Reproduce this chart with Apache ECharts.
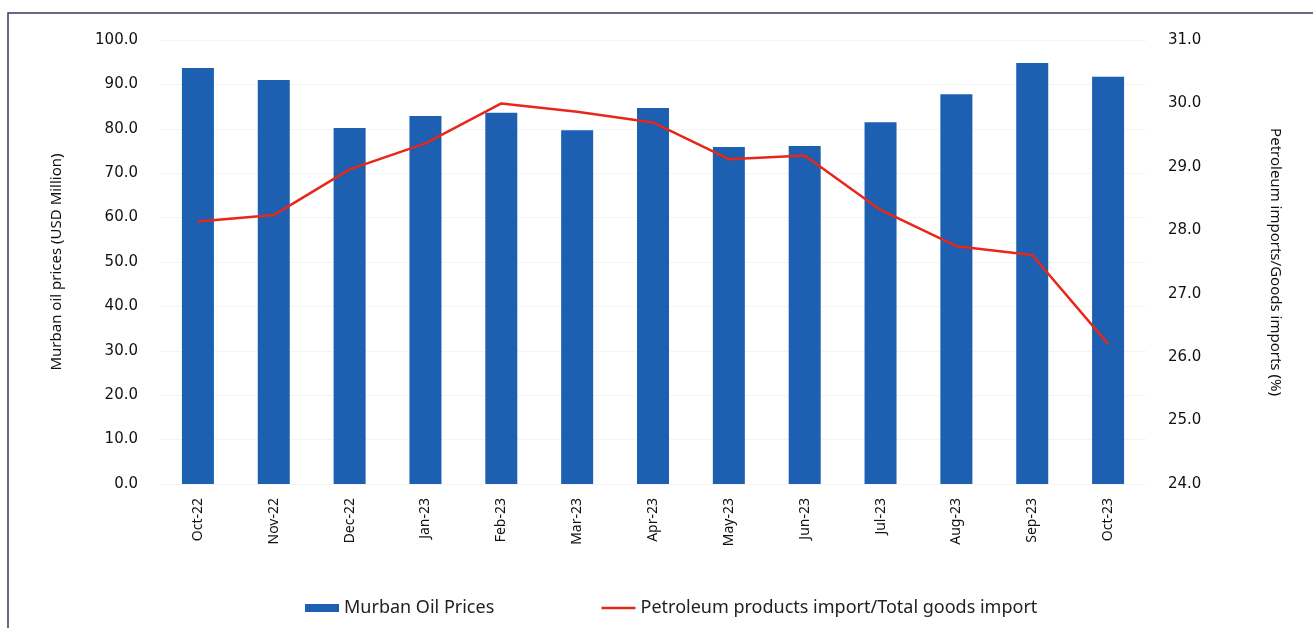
<!DOCTYPE html>
<html>
<head>
<meta charset="utf-8">
<script src="https://cdn.jsdelivr.net/npm/echarts@6/dist/echarts.min.js"></script>
<style>
  html, body { margin: 0; padding: 0; background: #fff; }
  #chart { width: 1313px; height: 628px; }
</style>
</head>
<body>
<div id="chart"></div>
<script>
const months = ['Oct-22', 'Nov-22', 'Dec-22', 'Jan-23', 'Feb-23', 'Mar-23', 'Apr-23',
  'May-23', 'Jun-23', 'Jul-23', 'Aug-23', 'Sep-23', 'Oct-23'];
const murbanPrices = [93.7, 91.0, 80.2, 82.9, 83.6, 79.7, 84.7, 75.9, 76.1, 81.5, 87.8, 94.8, 91.7];
const petroShare = [28.14, 28.24, 28.96, 29.37, 30.0, 29.87, 29.70, 29.12, 29.18, 28.32, 27.75, 27.61, 26.21];

let myChart = echarts.init(document.getElementById('chart'));

let option = {
  backgroundColor: '#fff',
  textStyle: { fontFamily: 'Noto Sans' },
  graphic: [
    {
      // frame around the chart, like the scanned original
      type: 'polyline',
      shape: { points: [[8, 640], [8, 13], [1320, 13]] },
      style: { stroke: '#3f3264', lineWidth: 1.5, fill: null }
    }
  ],
  grid: { left: 160, right: 167, top: 40, bottom: 144 },
  legend: {
    bottom: 6,
    left: 300,
    itemGap: 106,
    itemWidth: 34,
    itemHeight: 8,
    textStyle: { fontSize: 18, color: '#222', fontFamily: 'Noto Sans' },
    data: [
      { name: 'Murban Oil Prices', icon: 'rect', itemStyle: { color: '#1d5fb0' } },
      {
        name: 'Petroleum products import/Total goods import',
        itemStyle: { opacity: 0 },
        lineStyle: { color: '#e8261a', width: 2.5 }
      }
    ]
  },
  xAxis: {
    type: 'category',
    data: months,
    axisLine: { show: false },
    axisTick: { show: false },
    axisLabel: { rotate: 90, fontSize: 14, color: '#111', margin: 14 }
  },
  yAxis: [
    {
      type: 'value',
      min: 0,
      max: 100,
      interval: 10,
      name: 'Murban oil prices (USD Million)',
      nameLocation: 'middle',
      nameGap: 96,
      nameTextStyle: { fontSize: 15, color: '#111' },
      axisLabel: { fontSize: 15, color: '#111', margin: 22, fontFamily: 'DejaVu Sans',
        formatter: v => v.toFixed(1) },
      splitLine: { lineStyle: { color: '#f4f4f4' } }
    },
    {
      type: 'value',
      min: 24,
      max: 31,
      interval: 1,
      name: 'Petroleum imports/Goods imports (%)',
      nameLocation: 'middle',
      nameGap: 122,
      nameRotate: -90,
      nameTextStyle: { fontSize: 15, color: '#111' },
      axisLabel: { fontSize: 15, color: '#111', margin: 22, fontFamily: 'DejaVu Sans',
        formatter: v => v.toFixed(1) },
      splitLine: { show: false }
    }
  ],
  series: [
    {
      name: 'Murban Oil Prices',
      type: 'bar',
      data: murbanPrices,
      barWidth: 32,
      itemStyle: { color: '#1d5fb0' }
    },
    {
      name: 'Petroleum products import/Total goods import',
      type: 'line',
      yAxisIndex: 1,
      data: petroShare,
      symbol: 'none',
      lineStyle: { color: '#e8261a', width: 2.5 },
      itemStyle: { color: '#e8261a' }
    }
  ]
};

myChart.setOption(option);
</script>
</body>
</html>
